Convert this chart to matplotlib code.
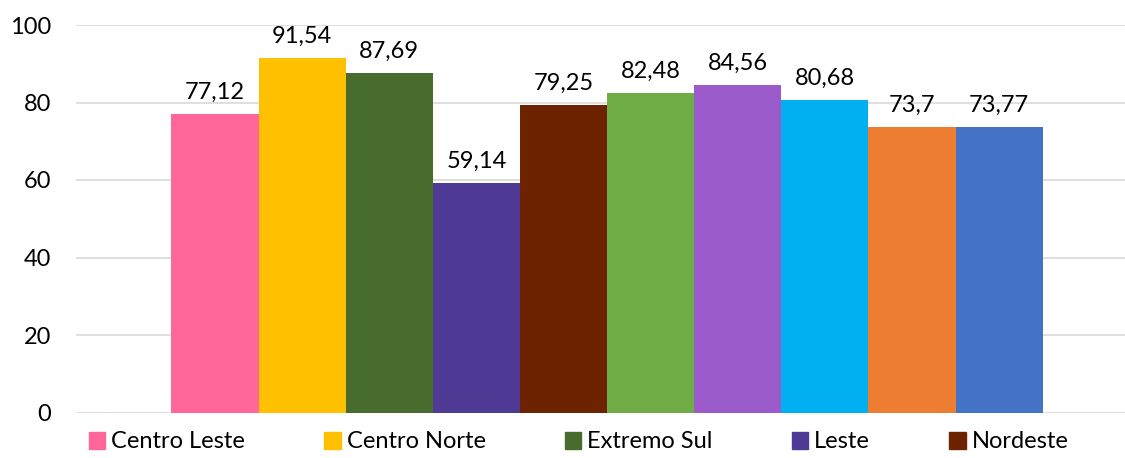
import matplotlib.pyplot as plt
from matplotlib.patches import Patch

plt.rcParams.update({"font.family": ["Lato", "DejaVu Sans"], "font.size": 17})

regions = ["Centro Leste", "Centro Norte", "Extremo Sul", "Leste", "Nordeste",
           "Norte", "Oeste", "Sudoeste", "Sul", "Vale do Jequitinhonha"]
values = [77.12, 91.54, 87.69, 59.14, 79.25, 82.48, 84.56, 80.68, 73.7, 73.77]
labels = ["77,12", "91,54", "87,69", "59,14", "79,25", "82,48", "84,56", "80,68", "73,7", "73,77"]
colors = ["#FF6699", "#FFC000", "#486B2E", "#4F3A96", "#6E2300",
          "#70AD47", "#9B5BCB", "#00B0F0", "#ED7D31", "#4472C4"]
yticks = [0, 20, 40, 60, 80, 100]

fig = plt.figure(figsize=(11.25, 4.58), dpi=100)
ax = fig.add_axes([76 / 1125, 45.5 / 458, 1 - 76 / 1125, 387.5 / 458])

x = list(range(len(values)))
bars = ax.bar(x, values, width=1.0, color=colors, zorder=2)
for b, lab in zip(bars, labels):
    ax.annotate(lab, (b.get_x() + b.get_width() / 2, b.get_height()),
                xytext=(0, 8), textcoords="offset points",
                ha="center", va="bottom", fontsize=17)

ax.set_ylim(0, 100)
ax.set_xlim(-1.595, 10.445)
ax.set_yticks(yticks)
ax.set_xticks([])
ax.yaxis.grid(True, color="#D9D9D9", linewidth=1.2, zorder=0)
ax.tick_params(axis="y", length=0, pad=18)
for s in ax.spines.values():
    s.set_visible(False)

handles = [Patch(color=c) for c in colors[:5]]
fig.legend(handles, regions[:5], loc="center left", bbox_to_anchor=(77 / 1125, 16 / 458),
           ncol=5, frameon=False, handlelength=0.7, handleheight=0.7,
           handletextpad=0.25, columnspacing=3.35, borderpad=0, fontsize=17)

plt.savefig("out.png", dpi=100)
